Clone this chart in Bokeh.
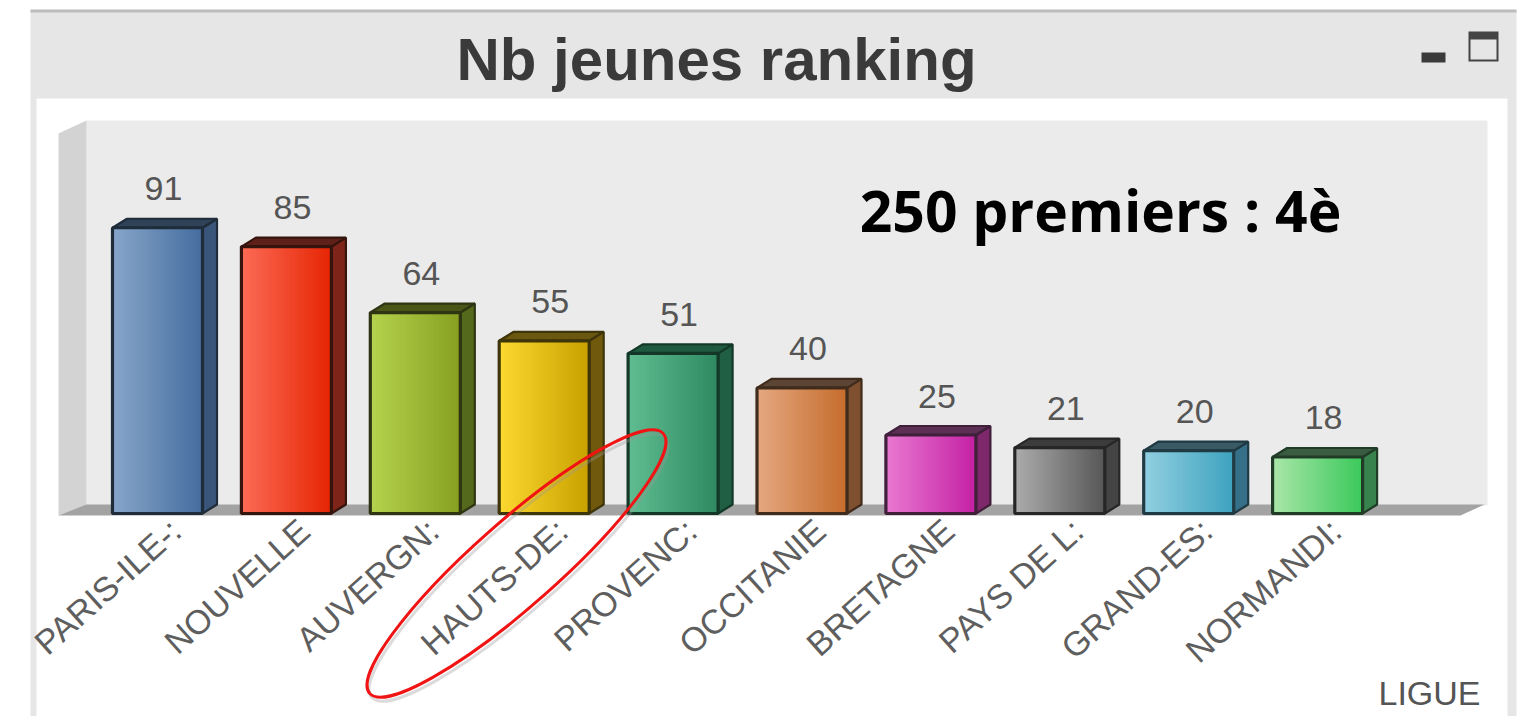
from math import radians
from bokeh.core.properties import value
from bokeh.embed import file_html
from bokeh.models import ColumnDataSource, FixedTicker, Range1d
from bokeh.plotting import figure
from bokeh.resources import INLINE

# ---- chart data ----
title_text = "Nb jeunes ranking"
note_text = "250 premiers : 4è"
axis_title = "LIGUE"
categories = ["PARIS-ILE-:", "NOUVELLE", "AUVERGN:", "HAUTS-DE:", "PROVENC:",
              "OCCITANIE", "BRETAGNE", "PAYS DE L:", "GRAND-ES:", "NORMANDI:"]
values = [91, 85, 64, 55, 51, 40, 25, 21, 20, 18]

# ---- bar styles ----
front_left = ["#86a5c9", "#fb6a55", "#b4d24c", "#fbd72f", "#5fbc90",
              "#e4a77f", "#e878d0", "#ababab", "#90cfe0", "#a8e6a8"]
front_right = ["#466d9f", "#e62604", "#87a021", "#c9a200", "#2f8a62",
               "#c66d2d", "#c522a5", "#585858", "#3fa3bf", "#3cc95c"]
side_fill = ["#3a557a", "#7e2418", "#55691c", "#70590c", "#215f44",
             "#7e5030", "#7e276b", "#444444", "#357088", "#38824e"]
top_fill = ["#2f4258", "#5e2018", "#4a5518", "#6a5710", "#1f5a40",
            "#5d4535", "#5c2f55", "#3c3c3c", "#3a5a66", "#3a5c40"]
edge = ["#1f2c3a", "#35140e", "#2e3512", "#3f350a", "#133827",
        "#402c1c", "#401f3a", "#262626", "#203a44", "#203c27"]

# ---- geometry of the scales ----
WIDTH, HEIGHT = 1534, 716
PX_X = 128.9            # pixels per category
PX_Y = 3.14             # pixels per value unit
ZERO_X, ZERO_Y = 157, 513
BAR = 90 / PX_X
DX, DY = 14.5 / PX_X, 9 / PX_Y
LABEL_SHIFT = 0.14


def rgb(h):
    return tuple(int(h[i:i + 2], 16) for i in (1, 3, 5))


def mix(a, b, t):
    ca, cb = rgb(a), rgb(b)
    return "#%02x%02x%02x" % tuple(round(p + (q - p) * t) for p, q in zip(ca, cb))


p = figure(width=WIDTH, height=HEIGHT, output_backend="svg", toolbar_location=None,
           x_range=Range1d(-ZERO_X / PX_X, (WIDTH - ZERO_X) / PX_X),
           y_range=Range1d(-(HEIGHT - ZERO_Y) / PX_Y, ZERO_Y / PX_Y),
           x_axis_location="below", y_axis_location=None,
           min_border=0, min_border_left=0, min_border_right=0,
           min_border_top=0, min_border_bottom=0,
           outline_line_color=None, background_fill_color="white",
           border_fill_color="white")
p.grid.visible = False
# screen space for the panel furniture, in picture coordinates
p.extra_x_ranges["px"] = Range1d(0, WIDTH)
p.extra_y_ranges["px"] = Range1d(HEIGHT, 0)


def box(l, r, t, b, color):
    p.quad(left=l, right=r, top=t, bottom=b, fill_color=color, line_color=None,
           x_range_name="px", y_range_name="px")


def poly(xs, ys, color):
    p.patch(xs, ys, fill_color=color, line_color=None, x_range_name="px", y_range_name="px")


# panel
box(30, 1516, 10, 716, "#e6e6e6")
box(30, 1516, 9, 12, "#bcbcbc")
box(36, 1507, 98, 716, "#ffffff")
# icons
box(1421, 1445, 52, 62, "#3a3a3a")
box(1468, 1498, 31, 61, "#444444")
box(1470, 1496, 39, 59, "#e6e6e6")
# 3-D walls and floor
box(86, 1487, 120, 505, "#ebebeb")
poly([58, 86, 86, 58], [133, 120, 505, 515], "#d3d3d3")
poly([58, 86, 1484, 1460], [515, 504, 504, 515], "#a3a3a3")

# bars
for i, v in enumerate(values):
    x0, x1 = i - BAR / 2, i + BAR / 2
    p.patch([x1, x1 + DX, x1 + DX, x1], [0, DY, v + DY, v],
            fill_color=side_fill[i], line_color=edge[i], line_width=2.2)
    p.patch([x0, x0 + DX, x1 + DX, x1], [v, v + DY, v + DY, v],
            fill_color=top_fill[i], line_color=edge[i], line_width=2.2)
    n = 30
    w = (x1 - x0) / n
    src = ColumnDataSource(dict(
        left=[x0 + k * w for k in range(n)],
        right=[x0 + (k + 1) * w + (w * 0.3 if k < n - 1 else 0) for k in range(n)],
        top=[v] * n, bottom=[0] * n,
        color=[mix(front_left[i], front_right[i], k / (n - 1)) for k in range(n)]))
    p.quad(left="left", right="right", top="top", bottom="bottom", source=src,
           fill_color="color", line_color=None)
    p.quad(left=[x0], right=[x1], top=[v], bottom=[0], fill_color=None,
           line_color=edge[i], line_width=3.2)

# value labels
p.text(x=list(range(len(values))), y=values, text=[str(v) for v in values],
       text_font_size="34px", text_font=value("Liberation Sans"),
       text_color="#555555", text_align="center", text_baseline="alphabetic",
       x_offset=6, y_offset=-39)

# category axis
ax = p.xaxis[0]
ax.fixed_location = 0
ax.ticker = FixedTicker(ticks=[i + LABEL_SHIFT for i in range(len(categories))])
ax.major_label_overrides = {i + LABEL_SHIFT: c for i, c in enumerate(categories)}
ax.major_label_orientation = radians(42)
ax.major_label_text_font = "Liberation Sans"
ax.major_label_text_font_size = "34px"
ax.major_label_text_color = "#5e5e5e"
ax.major_label_standoff = 6
ax.axis_line_color = None
ax.major_tick_line_color = None
ax.minor_tick_line_color = None

# texts
p.text(x=[716], y=[59], text=[title_text], text_font=value("Liberation Sans"),
       text_font_style="bold", text_font_size="60px", text_color="#3a3a3a",
       text_align="center", text_baseline="alphabetic", x_range_name="px", y_range_name="px")
p.text(x=[1100], y=[209], text=[note_text], text_font=value("Open Sans"),
       text_font_style="bold", text_font_size="57px", text_color="#000000",
       text_align="center", text_baseline="alphabetic", x_range_name="px", y_range_name="px")
p.text(x=[1480], y=[692], text=[axis_title], text_font=value("Liberation Sans"),
       text_font_size="34px", text_color="#555555", text_align="right",
       text_baseline="alphabetic", x_range_name="px", y_range_name="px")

# hand-drawn red ellipse
p.ellipse(x=[518], y=[567], width=[392], height=[84], angle=[radians(41.5)],
          fill_color=None, line_color="#999999", line_alpha=0.35, line_width=3,
          x_range_name="px", y_range_name="px", level="overlay")
p.ellipse(x=[516], y=[563], width=[392], height=[84], angle=[radians(41.5)],
          fill_color=None, line_color="#f01414", line_width=3,
          x_range_name="px", y_range_name="px", level="overlay")

open("out.html", "w").write(file_html(p, INLINE))
